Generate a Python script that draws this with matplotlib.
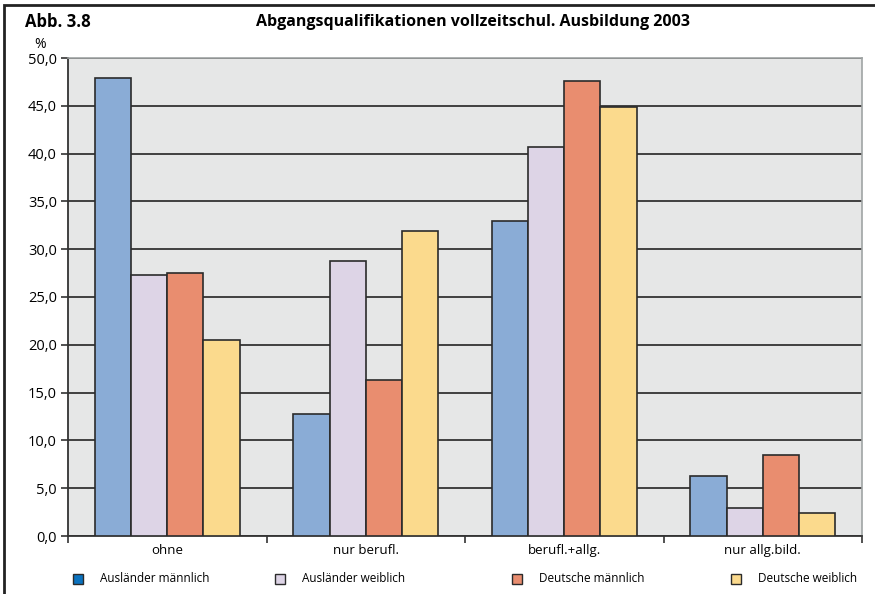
import numpy as np
import matplotlib
matplotlib.use('Agg')
import matplotlib.pyplot as plt
from matplotlib.patches import Rectangle

plt.rcParams['font.family'] = ['Open Sans', 'DejaVu Sans']

# Daten
kategorien = ['ohne', 'nur berufl.', 'berufl.+allg.', 'nur allg.bild.']
serien = ['Ausländer männlich', 'Ausländer weiblich', 'Deutsche männlich', 'Deutsche weiblich']
auslaender_m = [47.9, 12.8, 33.0, 6.3]
auslaender_w = [27.3, 28.8, 40.7, 2.9]
deutsche_m = [27.5, 16.3, 47.6, 8.5]
deutsche_w = [20.5, 31.9, 44.9, 2.4]
y_ticks = [0, 5, 10, 15, 20, 25, 30, 35, 40, 45, 50]

werte = [auslaender_m, auslaender_w, deutsche_m, deutsche_w]
farben = ['#8aacd6', '#ddd4e6', '#e98d6f', '#fbda8d']
legend_farben = ['#0a72bf', '#ddd4e6', '#e98d6f', '#fbda8d']

fig = plt.figure(figsize=(8.75, 5.94), dpi=100)
ax = fig.add_axes([68/875, 58/594, 794/875, 478/594])
ax.set_facecolor('#e6e7e7')

x = np.arange(len(kategorien))
breite = 0.182
for i, (w, c) in enumerate(zip(werte, farben)):
    ax.bar(x + (i - 1.5) * breite, w, breite, color=c, edgecolor='#2b2b2b',
           linewidth=1.2, zorder=3)

ax.set_ylim(0, 50)
ax.set_xlim(-0.5, 3.5)
ax.set_yticks(y_ticks)
ax.set_yticklabels([f'{v:.1f}'.replace('.', ',') for v in y_ticks], fontsize=10.5)
ax.yaxis.grid(True, color='#333333', linewidth=1.3, zorder=1)
ax.tick_params(axis='y', direction='out', length=5, width=1.2, color='#333333', pad=3)

ax.set_xticks(x)
ax.set_xticklabels(kategorien, fontsize=9.5)
ax.tick_params(axis='x', which='major', length=0, pad=6)
ax.set_xticks([-0.5, 0.5, 1.5, 2.5, 3.5], minor=True)
ax.tick_params(axis='x', which='minor', direction='out', length=5, width=1.2, color='#333333')

for s in ['left', 'bottom']:
    ax.spines[s].set_color('#333333')
    ax.spines[s].set_linewidth(1.3)
for s in ['top', 'right']:
    ax.spines[s].set_color('#a0a4a4')
    ax.spines[s].set_linewidth(1.2)

# Titel
fig.text(25/875, 1 - 22/594, 'Abb. 3.8', fontsize=12, fontweight='bold', va='center')
fig.text(473/875, 1 - 22/594, 'Abgangsqualifikationen vollzeitschul. Ausbildung 2003',
         fontsize=11.5, fontweight='bold', va='center', ha='center')
fig.text(40/875, 1 - 45/594, '%', fontsize=10, va='center', ha='center')

# Legende
legend_x = [78, 280, 517, 736]
for lx, name, c in zip(legend_x, serien, legend_farben):
    fig.patches.append(Rectangle(((lx - 5) / 875, (594 - 584) / 594), 10 / 875, 10 / 594,
                                 transform=fig.transFigure, facecolor=c,
                                 edgecolor='#2b2b2b', linewidth=1.0))
    fig.text((lx + 22) / 875, (594 - 579) / 594, name, fontsize=8.5, va='center')

# Rahmen
fig.patches.append(Rectangle((4 / 875, -0.01), 1.0, 1 - 5 / 594 + 0.01,
                             transform=fig.transFigure, fill=False,
                             edgecolor='#222222', linewidth=2.0))

plt.savefig('out.png', dpi=100)
plt.close()
